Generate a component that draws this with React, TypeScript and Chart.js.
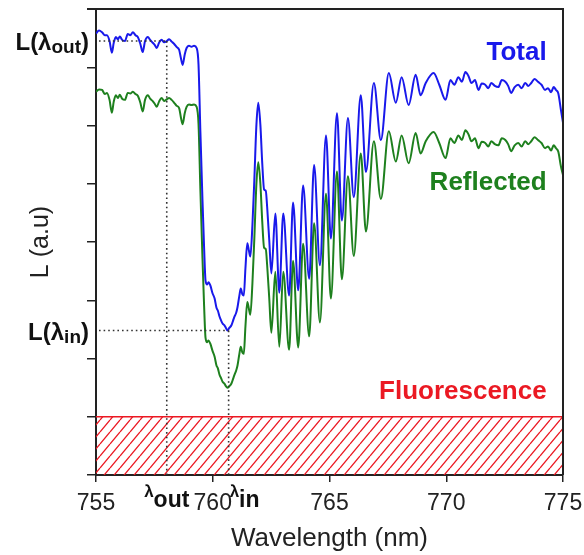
import React, { useEffect, useRef } from "react";
import { Chart, registerables } from "chart.js";

Chart.register(...registerables);

// ---------- data ----------
const wavelength = [
  755.0, 755.13, 755.26, 755.38, 755.47, 755.58, 755.68, 755.76, 755.85, 755.94,
  756.02, 756.12, 756.24, 756.36, 756.47, 756.58, 756.69, 756.79, 756.9, 757.0,
  757.1, 757.22, 757.32, 757.43, 757.52, 757.6, 757.7, 757.81, 757.92, 758.03,
  758.13, 758.24, 758.35, 758.45, 758.56, 758.64, 758.71, 758.8, 758.88, 758.98,
  759.09, 759.2, 759.31, 759.39, 759.47, 759.56, 759.63, 759.69,
  759.76, 759.82, 759.9, 759.99, 760.08, 760.16, 760.22, 760.29, 760.36, 760.42,
  760.5, 760.57, 760.63, 760.7, 760.8, 760.87, 760.93, 761.0, 761.06, 761.14,
  761.2, 761.27, 761.33, 761.4, 761.48, 761.55, 761.61, 761.7, 761.78, 761.87,
  761.95, 762.04, 762.12, 762.2, 762.27, 762.33, 762.42, 762.51,
  762.68, 762.85, 763.02, 763.27, 763.44, 763.66, 763.87, 764.13, 764.34, 764.59,
  764.85, 765.06, 765.32, 765.53, 765.79, 766.04, 766.34, 766.56, 766.9, 767.2,
  767.54, 767.84, 768.09, 768.39, 768.69, 768.9, 769.12, 769.46, 769.7, 769.97,
  770.18, 770.35, 770.52, 770.67, 770.82, 770.95, 771.08, 771.23, 771.38, 771.52,
  771.67, 771.8, 771.93, 772.08, 772.23, 772.38, 772.53, 772.65, 772.78, 772.93,
  773.08, 773.23, 773.38, 773.51, 773.64, 773.78, 773.93, 774.08, 774.23, 774.36,
  774.49, 774.6, 774.7, 774.8, 774.91, 775.0,
];

const total = [
  7.58, 7.63, 7.6, 7.55, 7.55, 7.45, 7.25, 7.42, 7.52, 7.48,
  7.53, 7.47, 7.45, 7.57, 7.55, 7.6, 7.55, 7.52, 7.4, 7.26,
  7.45, 7.52, 7.47, 7.42, 7.38, 7.33, 7.42, 7.47, 7.43, 7.45,
  7.48, 7.44, 7.4, 7.35, 7.3, 7.15, 7.04, 7.22, 7.33, 7.37,
  7.35, 7.37, 7.33, 7.05, 5.9, 4.72, 3.9, 3.34,
  3.27, 3.31, 3.25, 3.12, 3.03, 2.87, 2.82, 2.72, 2.65, 2.6,
  2.57, 2.52, 2.48, 2.52, 2.57, 2.65, 2.72, 2.78, 2.88, 3.08,
  3.2, 3.1, 3.08, 3.55, 3.98, 3.85, 3.75, 4.3, 5.06, 6.01,
  6.39, 6.01, 5.35, 4.9, 4.88, 4.6, 4.03, 3.46,
  4.49, 3.13, 4.49, 3.08, 4.68, 3.17, 4.97, 3.37, 5.32, 3.6,
  5.83, 4.06, 6.21, 4.37, 6.13, 4.77, 6.52, 5.2, 6.73, 5.75,
  6.9, 6.39, 6.83, 6.35, 6.87, 6.52, 6.73, 6.9, 6.7, 6.44,
  6.78, 6.7, 6.83, 6.75, 6.92, 6.85, 6.73, 6.78, 6.61, 6.72,
  6.7, 6.64, 6.73, 6.68, 6.66, 6.78, 6.75, 6.68, 6.56, 6.66,
  6.7, 6.64, 6.73, 6.68, 6.73, 6.8, 6.75, 6.7, 6.61, 6.64,
  6.57, 6.66, 6.61, 6.55, 6.27, 6.05,
];

const reflected = [
  6.58, 6.62, 6.61, 6.54, 6.56, 6.44, 6.22, 6.41, 6.52, 6.47,
  6.53, 6.46, 6.44, 6.56, 6.55, 6.58, 6.54, 6.51, 6.39, 6.24,
  6.44, 6.52, 6.46, 6.42, 6.37, 6.32, 6.41, 6.47, 6.42, 6.45,
  6.47, 6.44, 6.39, 6.34, 6.3, 6.13, 6.02, 6.21, 6.32, 6.36,
  6.35, 6.36, 6.32, 6.03, 4.9, 3.72, 2.9, 2.36,
  2.28, 2.31, 2.25, 2.13, 2.03, 1.88, 1.83, 1.72, 1.66, 1.6,
  1.57, 1.52, 1.5, 1.52, 1.57, 1.65, 1.72, 1.79, 1.88, 2.08,
  2.2, 2.1, 2.08, 2.55, 2.97, 2.85, 2.75, 3.3, 4.05, 5.0,
  5.37, 5.0, 4.35, 3.9, 3.88, 3.6, 3.03, 2.44,
  3.49, 2.2, 3.49, 2.15, 3.68, 2.19, 3.97, 2.38, 4.32, 2.62,
  4.83, 3.03, 5.21, 3.36, 5.13, 3.76, 5.52, 4.18, 5.73, 4.74,
  5.9, 5.38, 5.83, 5.35, 5.87, 5.52, 5.73, 5.89, 5.7, 5.44,
  5.78, 5.7, 5.83, 5.75, 5.92, 5.85, 5.73, 5.78, 5.61, 5.72,
  5.7, 5.64, 5.73, 5.68, 5.66, 5.78, 5.75, 5.68, 5.56, 5.66,
  5.7, 5.64, 5.73, 5.68, 5.73, 5.8, 5.75, 5.7, 5.61, 5.64,
  5.57, 5.66, 5.61, 5.55, 5.3, 5.15,
];

const fluorescenceLevel = 1;
const xRange = [755, 775];
const yRange = [0, 8];
const xTickStep = 5;

const lambdaOut = 758.03;
const lambdaIn = 760.68;
const lOut = 7.45;
const lIn = 2.48;

const labelTotal = { text: "Total", x: 774.3, y: 7.25 };
const labelReflected = { text: "Reflected", x: 774.3, y: 5.02 };
const labelFluor = { text: "Fluorescence", x: 774.3, y: 1.42 };

// ---------- styles ----------
const FONT = "'Liberation Sans', Arial, Helvetica, sans-serif";
const BLUE = "rgb(25,25,235)";
const GREEN = "rgb(30,128,30)";
const RED = "rgb(235,25,35)";
const AXIS = "#222";

function makeHatch(): CanvasPattern | string {
  const c = document.createElement("canvas");
  c.width = 10;
  c.height = 12;
  const g = c.getContext("2d");
  if (!g) return "rgba(235,25,35,0.3)";
  g.strokeStyle = RED;
  g.lineWidth = 1.3;
  g.beginPath();
  g.moveTo(0, 12);
  g.lineTo(10, 0);
  g.moveTo(-10, 12);
  g.lineTo(0, 0);
  g.moveTo(10, 12);
  g.lineTo(20, 0);
  g.stroke();
  return g.createPattern(c, "repeat") || "rgba(235,25,35,0.3)";
}

type Part = { t: string; size: number; dy: number };

function drawParts(
  ctx: CanvasRenderingContext2D,
  parts: Part[],
  x: number,
  baseline: number,
  align: "left" | "right" | "center"
) {
  let w = 0;
  const widths: number[] = [];
  for (const p of parts) {
    ctx.font = `bold ${p.size}px ${FONT}`;
    const m = ctx.measureText(p.t).width;
    widths.push(m);
    w += m;
  }
  let cx = align === "left" ? x : align === "right" ? x - w : x - w / 2;
  ctx.textAlign = "left";
  ctx.textBaseline = "alphabetic";
  parts.forEach((p, i) => {
    ctx.font = `bold ${p.size}px ${FONT}`;
    ctx.fillText(p.t, cx, baseline + p.dy);
    cx += widths[i];
  });
}

const annotPlugin = {
  id: "annot",
  afterDatasetsDraw(chart: any) {
    const { ctx, chartArea: a, scales } = chart;
    const xs = scales.x;
    const ys = scales.y;
    ctx.save();
    // box top/right
    ctx.strokeStyle = AXIS;
    ctx.lineWidth = 2;
    ctx.beginPath();
    ctx.moveTo(a.left - 9, a.top);
    ctx.lineTo(a.right, a.top);
    ctx.lineTo(a.right, a.bottom);
    ctx.stroke();

    // dotted guide lines
    const xo = xs.getPixelForValue(lambdaOut);
    const yo = ys.getPixelForValue(lOut);
    const xi = xs.getPixelForValue(lambdaIn);
    const yi = ys.getPixelForValue(lIn);
    ctx.setLineDash([1.6, 3]);
    ctx.lineWidth = 1.6;
    ctx.strokeStyle = "#333";
    ctx.beginPath();
    ctx.moveTo(a.left + 3, yo);
    ctx.lineTo(xo, yo);
    ctx.moveTo(xo, yo);
    ctx.lineTo(xo, a.bottom);
    ctx.moveTo(a.left + 3, yi);
    ctx.lineTo(xi, yi);
    ctx.moveTo(xi, yi);
    ctx.lineTo(xi, a.bottom);
    ctx.stroke();
    ctx.setLineDash([]);

    // series labels
    ctx.textAlign = "right";
    ctx.textBaseline = "middle";
    ctx.font = `bold 26px ${FONT}`;
    ctx.fillStyle = BLUE;
    ctx.fillText(labelTotal.text, xs.getPixelForValue(labelTotal.x), ys.getPixelForValue(labelTotal.y));
    ctx.fillStyle = GREEN;
    ctx.fillText(labelReflected.text, xs.getPixelForValue(labelReflected.x), ys.getPixelForValue(labelReflected.y));
    ctx.fillStyle = RED;
    ctx.fillText(labelFluor.text, xs.getPixelForValue(labelFluor.x), ys.getPixelForValue(labelFluor.y));

    // axis annotations
    ctx.fillStyle = "#111";
    drawParts(
      ctx,
      [
        { t: "L(λ", size: 24, dy: 0 },
        { t: "out", size: 19, dy: 3 },
        { t: ")", size: 24, dy: 0 },
      ],
      a.left - 7,
      yo + 9,
      "right"
    );
    drawParts(
      ctx,
      [
        { t: "L(λ", size: 24, dy: 0 },
        { t: "in", size: 19, dy: 3 },
        { t: ")", size: 24, dy: 0 },
      ],
      a.left - 7,
      yi + 9,
      "right"
    );
    drawParts(
      ctx,
      [
        { t: "λ", size: 17, dy: -10 },
        { t: "out", size: 23, dy: 0 },
      ],
      xo,
      a.bottom + 32,
      "center"
    );
    drawParts(
      ctx,
      [
        { t: "λ", size: 17, dy: -10 },
        { t: "in", size: 23, dy: 0 },
      ],
      xi + 1,
      a.bottom + 32,
      "left"
    );
    ctx.restore();
  },
};

export default function App() {
  const ref = useRef<HTMLCanvasElement | null>(null);
  useEffect(() => {
    if (!ref.current) return;
    const totalPts = wavelength.map((x, i) => ({ x, y: total[i] }));
    const reflPts = wavelength.map((x, i) => ({ x, y: reflected[i] }));
    const fluorPts = [
      { x: xRange[0], y: fluorescenceLevel },
      { x: xRange[1], y: fluorescenceLevel },
    ];
    const chart = new Chart(ref.current, {
      type: "line",
      data: {
        datasets: [
          {
            label: "Total",
            data: totalPts,
            borderColor: BLUE,
            borderWidth: 2,
            pointRadius: 0,
            cubicInterpolationMode: "monotone",
            fill: false,
          },
          {
            label: "Reflected",
            data: reflPts,
            borderColor: GREEN,
            borderWidth: 2,
            pointRadius: 0,
            cubicInterpolationMode: "monotone",
            fill: false,
          },
          {
            label: "Fluorescence",
            data: fluorPts,
            borderColor: RED,
            borderWidth: 1.5,
            pointRadius: 0,
            tension: 0,
            fill: "origin",
            backgroundColor: makeHatch() as any,
          },
        ],
      },
      options: {
        animation: false,
        responsive: false,
        layout: { padding: { left: 0, right: 21, top: 9, bottom: 0 } },
        plugins: {
          legend: { display: false },
          tooltip: { enabled: false },
        },
        scales: {
          x: {
            type: "linear",
            min: xRange[0],
            max: xRange[1],
            ticks: {
              stepSize: xTickStep,
              color: AXIS,
              font: { family: FONT, size: 23 },
              padding: 8,
            },
            grid: {
              drawOnChartArea: false,
              drawTicks: true,
              tickLength: 7,
              color: AXIS,
              lineWidth: 1.5,
            },
            border: { color: AXIS, width: 2 },
            title: {
              display: true,
              text: "Wavelength (nm)",
              color: AXIS,
              font: { family: FONT, size: 26 },
              padding: { top: 0, bottom: 1 },
            },
            afterFit(s: any) {
              s.height = 80;
              s.paddingLeft = 0;
              s.paddingRight = 0;
            },
          } as any,
          y: {
            type: "linear",
            min: yRange[0],
            max: yRange[1],
            ticks: { stepSize: 1, display: false },
            grid: {
              drawOnChartArea: false,
              drawTicks: true,
              tickLength: 9,
              color: AXIS,
              lineWidth: 1.5,
            },
            border: { color: AXIS, width: 2 },
            title: {
              display: true,
              text: "L (a.u)",
              color: AXIS,
              font: { family: FONT, size: 25 },
              padding: { top: 26, bottom: 0 },
            },
            afterFit(s: any) {
              s.width = 96;
              s.paddingTop = 0;
              s.paddingBottom = 0;
            },
          } as any,
        },
      },
      plugins: [annotPlugin],
    });
    return () => chart.destroy();
  }, []);
  return (
    <div style={{ position: "fixed", left: 0, top: 0, width: 584, height: 555, background: "#fff" }}>
      <canvas ref={ref} width={584} height={555} style={{ width: 584, height: 555 }} />
    </div>
  );
}
